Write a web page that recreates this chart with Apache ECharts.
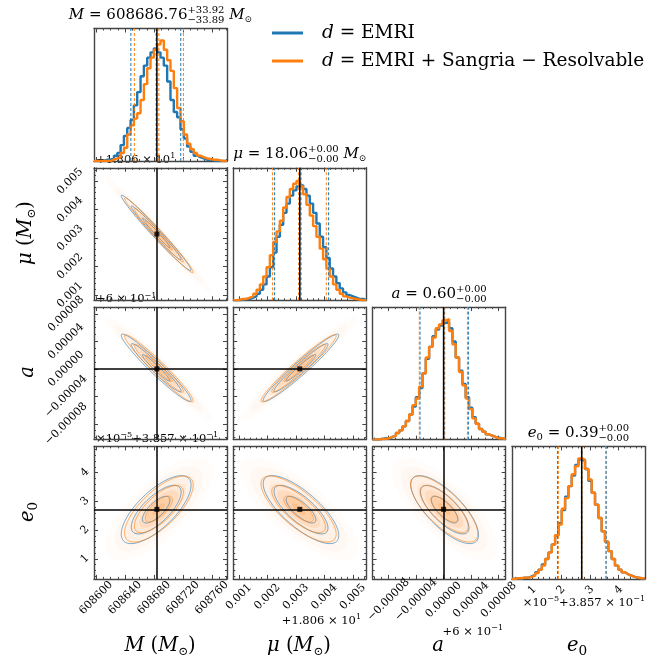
<!DOCTYPE html>
<html>
<head>
<meta charset="utf-8">
<script src="https://cdn.jsdelivr.net/npm/echarts@6/dist/echarts.min.js"></script>
<style>
  html, body { margin: 0; padding: 0; background: #fff; }
  #chart { width: 658px; height: 660px; }
</style>
</head>
<body>
<div id="chart"></div>
<script>
const FONT = 'DejaVu Serif'
const BLUE = '#1f77b4'
const ORANGE = '#ff7f0e'

// axis ranges: mu is relative to 18.06, a to 0.6, e0 in units of 1e-5 relative to 0.3857
const rangeM = [608597, 608781]
const rangeMu = [0.000807, 0.005473]
const rangeA = [-0.000103, 0.000090]
const rangeE0 = [0.30, 4.91]

const ticksM = [608600, 608640, 608680, 608720, 608760]
const ticksMu = [0.001, 0.002, 0.003, 0.004, 0.005]
const ticksA = [-0.00008, -0.00004, 0, 0.00004, 0.00008]
const ticksE0 = [1, 2, 3, 4]
const labelsM = ['608600', '608640', '608680', '608720', '608760']
const labelsMu = ['0.001', '0.002', '0.003', '0.004', '0.005']
const labelsA = ['\u22120.00008', '\u22120.00004', '0.00000', '0.00004', '0.00008']
const labelsE0 = ['1', '2', '3', '4']
const minorSteps = [10, 0.0002, 0.00001, 0.2]

const truths = [608684, 0.00314, 0, 2.72]

// normalised step histograms, 40 bins over each axis range
const histM_emri = [0, 0, 0, 0.01, 0.01, 0.02, 0.04, 0.06, 0.12, 0.19, 0.25, 0.31, 0.42, 0.52, 0.64, 0.72, 0.78, 0.82, 0.85, 0.82,
  0.78, 0.72, 0.60, 0.46, 0.37, 0.33, 0.24, 0.17, 0.11, 0.07, 0.04, 0.03, 0.02, 0.01, 0.01, 0.005, 0, 0, 0, 0]
const histM_sangria = [0, 0, 0, 0, 0, 0.01, 0.02, 0.03, 0.06, 0.10, 0.20, 0.27, 0.32, 0.36, 0.46, 0.58, 0.70, 0.78, 0.84, 0.88,
  0.91, 0.84, 0.76, 0.68, 0.55, 0.40, 0.30, 0.20, 0.13, 0.09, 0.06, 0.04, 0.03, 0.02, 0.015, 0.01, 0.01, 0.005, 0, 0]
const histMu_emri = [0, 0, 0.005, 0.01, 0.01, 0.02, 0.03, 0.05, 0.08, 0.12, 0.18, 0.25, 0.36, 0.48, 0.57, 0.66, 0.73, 0.79, 0.83, 0.86,
  0.87, 0.84, 0.79, 0.73, 0.66, 0.58, 0.48, 0.40, 0.32, 0.24, 0.18, 0.13, 0.09, 0.06, 0.04, 0.03, 0.02, 0.01, 0.01, 0.005]
const histMu_sangria = [0, 0.005, 0.01, 0.01, 0.02, 0.03, 0.05, 0.08, 0.12, 0.18, 0.25, 0.34, 0.44, 0.52, 0.60, 0.70, 0.78, 0.84, 0.88, 0.90,
  0.86, 0.80, 0.72, 0.64, 0.56, 0.48, 0.39, 0.31, 0.24, 0.18, 0.12, 0.08, 0.05, 0.03, 0.02, 0.015, 0.01, 0.005, 0, 0]
const histA_emri = [0, 0, 0.005, 0.01, 0.01, 0.02, 0.03, 0.05, 0.07, 0.10, 0.14, 0.19, 0.25, 0.32, 0.39, 0.50, 0.61, 0.70, 0.78, 0.83,
  0.86, 0.88, 0.89, 0.84, 0.74, 0.62, 0.52, 0.42, 0.32, 0.24, 0.17, 0.12, 0.08, 0.06, 0.04, 0.03, 0.02, 0.015, 0.01, 0.005]
const histA_sangria = [0, 0, 0.005, 0.005, 0.01, 0.02, 0.03, 0.05, 0.07, 0.10, 0.14, 0.19, 0.26, 0.31, 0.40, 0.50, 0.62, 0.70, 0.77, 0.84,
  0.87, 0.90, 0.91, 0.82, 0.72, 0.62, 0.51, 0.41, 0.31, 0.23, 0.16, 0.12, 0.08, 0.06, 0.04, 0.03, 0.02, 0.01, 0.01, 0.005]
const histE0_emri = [0, 0.005, 0.005, 0.01, 0.01, 0.02, 0.03, 0.05, 0.07, 0.11, 0.15, 0.20, 0.26, 0.33, 0.42, 0.52, 0.62, 0.70, 0.78, 0.86,
  0.90, 0.89, 0.83, 0.74, 0.65, 0.56, 0.46, 0.36, 0.28, 0.21, 0.15, 0.10, 0.07, 0.05, 0.035, 0.025, 0.015, 0.01, 0.005, 0.005]
const histE0_sangria = [0, 0.005, 0.005, 0.01, 0.01, 0.015, 0.025, 0.045, 0.07, 0.10, 0.15, 0.20, 0.26, 0.33, 0.41, 0.53, 0.61, 0.70, 0.79, 0.85,
  0.91, 0.90, 0.83, 0.75, 0.65, 0.56, 0.46, 0.36, 0.28, 0.21, 0.15, 0.10, 0.07, 0.05, 0.035, 0.025, 0.015, 0.01, 0.005, 0.005]

// 16 / 50 / 84 % quantiles
const quantEmri = [[608648, 608683, 608717], [0.002256, 0.003182, 0.004151], [-0.0000342, 0.0000016, 0.0000360], [1.88, 2.71, 3.57]]
const quantSangria = [[608652.87, 608686.76, 608720.68], [0.002186, 0.003098, 0.004070], [-0.0000352, 0.0000008, 0.0000346], [1.91, 2.73, 3.55]]

// correlation of each 2d panel, key = row-col
const rhoEmri = { '1-0': -0.985, '2-0': -0.965, '3-0': 0.72, '2-1': 0.965, '3-1': -0.76, '3-2': -0.74 }
const rhoSangria = { '1-0': -0.985, '2-0': -0.965, '3-0': 0.72, '2-1': 0.965, '3-1': -0.76, '3-2': -0.75 }

// contour radii (in sigma) and density shading layers [radius, opacity]
const contourLevels = [0.55, 1.0, 1.4]
const densityLayers = [[2.2, 0.02], [1.8, 0.03], [1.45, 0.05], [1.1, 0.08], [0.8, 0.11], [0.5, 0.14], [0.25, 0.14]]

const ranges = [rangeM, rangeMu, rangeA, rangeE0]
const majors = [ticksM, ticksMu, ticksA, ticksE0]
const tickLabels = [labelsM, labelsMu, labelsA, labelsE0]
const histEmri = [histM_emri, histMu_emri, histA_emri, histE0_emri]
const histSangria = [histM_sangria, histMu_sangria, histA_sangria, histE0_sangria]
const xLabelMargin = [19, 18, 21, 11]
const yLabelMargin = [0, 24, 28, 9]
const SPINE = '#444'

function minorTicks (p) {
  const s = minorSteps[p]
  const out = []
  for (let k = Math.ceil(ranges[p][0] / s); k * s <= ranges[p][1]; k++) out.push(k * s)
  return out
}

function labelFor (p, v) {
  const t = majors[p]
  let best = 0
  t.forEach((tv, k) => { if (Math.abs(tv - v) < Math.abs(t[best] - v)) best = k })
  return tickLabels[p][best]
}

function axis (gi, pos, p, opt) {
  const isY = pos === 'left' || pos === 'right'
  return {
    type: 'value',
    gridIndex: gi,
    position: pos,
    min: ranges[p][0],
    max: ranges[p][1],
    axisLine: { show: opt.line, onZero: false, lineStyle: { color: SPINE, width: 1.4 } },
    axisTick: { show: true, inside: true, length: opt.len, customValues: opt.ticks, lineStyle: { color: SPINE, width: 1 } },
    axisLabel: opt.labels ? {
      show: true,
      customValues: majors[p],
      rotate: 45,
      align: 'center',
      verticalAlign: 'middle',
      margin: isY ? yLabelMargin[p] : xLabelMargin[p],
      fontFamily: FONT,
      fontSize: 11,
      color: '#000',
      formatter: v => labelFor(p, v)
    } : { show: false },
    splitLine: { show: false },
    axisPointer: { show: false }
  }
}

function histData (p, counts) {
  const r = ranges[p]
  const n = counts.length
  const w = (r[1] - r[0]) / n
  const d = counts.map((c, k) => [r[0] + (k + 0.5) * w, c])
  return [[r[0], counts[0]]].concat(d, [[r[1], counts[n - 1]]])
}

function vline (xi, yi, v, color, width, type) {
  return {
    type: 'line', xAxisIndex: xi, yAxisIndex: yi, symbol: 'none', silent: true,
    data: [[v, 0], [v, 1]], lineStyle: { color: color, width: width, type: type }
  }
}

function ellipseSeries (xi, yi, c, s, rho, data, fill, color) {
  return {
    type: 'custom',
    xAxisIndex: xi,
    yAxisIndex: yi,
    clip: true,
    silent: true,
    data: data,
    renderItem: (params, api) => {
      const r = api.value(0)
      const op = api.value(1)
      const q = Math.sqrt(1 - rho * rho)
      const pts = []
      for (let k = 0; k <= 90; k++) {
        const t = k / 90 * 2 * Math.PI
        const u = Math.cos(t)
        const v = Math.sin(t)
        pts.push(api.coord([c[0] + r * s[0] * u, c[1] + r * s[1] * (rho * u + q * v)]))
      }
      return fill
        ? { type: 'polygon', shape: { points: pts }, style: { fill: color, opacity: op } }
        : { type: 'polyline', shape: { points: pts }, style: { stroke: color, lineWidth: 0.7, fill: null, opacity: 0.85 } }
    }
  }
}

const grids = []
const xAxes = []
const yAxes = []
const series = []

for (let i = 0; i < 4; i++) {
  for (let j = 0; j <= i; j++) {
    const gi = grids.length
    grids.push({ left: 94 + 139.3 * j, top: 28.5 + 139.3 * i, width: 133, height: 132.5 })
    const xi = xAxes.length
    xAxes.push(axis(gi, 'bottom', j, { line: true, ticks: majors[j], len: 4, labels: i === 3 }))
    xAxes.push(axis(gi, 'bottom', j, { line: false, ticks: minorTicks(j), len: 2 }))
    xAxes.push(axis(gi, 'top', j, { line: true, ticks: majors[j], len: 4 }))
    xAxes.push(axis(gi, 'top', j, { line: false, ticks: minorTicks(j), len: 2 }))
    const yi = yAxes.length
    if (i === j) {
      ['left', 'right'].forEach(pos => yAxes.push({
        type: 'value', gridIndex: gi, position: pos, min: 0, max: 1,
        axisLine: { show: true, onZero: false, lineStyle: { color: SPINE, width: 1.4 } },
        axisTick: { show: false }, axisLabel: { show: false }, splitLine: { show: false }
      }))
      series.push({
        type: 'line', xAxisIndex: xi, yAxisIndex: yi, step: 'middle', symbol: 'none', silent: true,
        data: histData(i, histEmri[i]), lineStyle: { color: BLUE, width: 2.4 }
      })
      series.push({
        type: 'line', xAxisIndex: xi, yAxisIndex: yi, step: 'middle', symbol: 'none', silent: true,
        data: histData(i, histSangria[i]), lineStyle: { color: ORANGE, width: 2.4 }
      })
      quantEmri[i].forEach(v => series.push(vline(xi, yi, v, BLUE, 1, [3, 2])))
      quantSangria[i].forEach(v => series.push(vline(xi, yi, v, ORANGE, 1, [3, 2])))
      series.push(vline(xi, yi, truths[i], '#000', 1.5, 'solid'))
    } else {
      yAxes.push(axis(gi, 'left', i, { line: true, ticks: majors[i], len: 4, labels: j === 0 }))
      yAxes.push(axis(gi, 'left', i, { line: false, ticks: minorTicks(i), len: 2 }))
      yAxes.push(axis(gi, 'right', i, { line: true, ticks: majors[i], len: 4 }))
      yAxes.push(axis(gi, 'right', i, { line: false, ticks: minorTicks(i), len: 2 }))
      const key = i + '-' + j
      const sig = q => [(q[j][2] - q[j][0]) / 2, (q[i][2] - q[i][0]) / 2]
      const cen = q => [q[j][1], q[i][1]]
      series.push(ellipseSeries(xi, yi, cen(quantSangria), sig(quantSangria), rhoSangria[key], densityLayers, true, ORANGE))
      series.push(ellipseSeries(xi, yi, cen(quantEmri), sig(quantEmri), rhoEmri[key], contourLevels.map(l => [l, 1]), false, BLUE))
      series.push(ellipseSeries(xi, yi, cen(quantSangria), sig(quantSangria), rhoSangria[key], contourLevels.map(l => [l, 1]), false, ORANGE))
      series.push({
        type: 'scatter', xAxisIndex: xi, yAxisIndex: yi, symbol: 'rect', symbolSize: 5, silent: true,
        itemStyle: { color: '#000' },
        data: [[truths[j], truths[i]]],
        markLine: {
          symbol: ['none', 'none'], silent: true, label: { show: false },
          lineStyle: { color: '#000', width: 1.5, type: 'solid' },
          data: [{ xAxis: truths[j] }, { yAxis: truths[i] }]
        }
      })
    }
  }
}

// --- text with sub / superscripts as graphic elements ---
const measureCtx = document.createElement('canvas').getContext('2d')
function textW (t, size, italic) {
  measureCtx.font = (italic ? 'italic ' : '') + size + 'px "' + FONT + '"'
  return measureCtx.measureText(t).width
}
function txt (x, y, t, size, italic, bg) {
  const style = { text: t, fontSize: size, fontFamily: FONT, fontStyle: italic ? 'italic' : 'normal', fill: '#000', align: 'left', verticalAlign: 'middle' }
  if (bg) style.backgroundColor = bg
  return { type: 'text', x: x, y: y, silent: true, style: style }
}
function mathGroup (parts, x, y, anchor, rotation, bg) {
  let cx = 0
  const els = []
  parts.forEach(p => {
    if (p.sup !== undefined) {
      els.push(txt(cx, -p.s * 0.5, p.sup, p.s, false))
      els.push(txt(cx, p.s * 0.55, p.sub, p.s, false))
      cx += Math.max(textW(p.sup, p.s), textW(p.sub, p.s))
    } else {
      els.push(txt(cx, p.dy || 0, p.t, p.s, p.it, bg))
      cx += textW(p.t, p.s, p.it)
    }
  })
  const off = anchor === 'center' ? -cx / 2 : anchor === 'right' ? -cx : 0
  els.forEach(e => { e.x += off })
  return { type: 'group', x: x, y: y, rotation: rotation || 0, silent: true, children: els }
}

const T = 15
const S = 10
const L = 19.5
const O = 11.5
const BG = 'rgba(255,255,255,0.75)'
const sunM = s => [{ t: 'M', it: true, s: s }, { t: '\u2299', s: s * 0.6, dy: s * 0.3 }]
const graphics = [
  // titles
  mathGroup([{ t: 'M', it: true, s: T }, { t: ' = 608686.76', s: T }, { sup: '+33.92', sub: '\u221233.89', s: S }, { t: ' ', s: T }].concat(sunM(T)), 160.5, 15, 'center'),
  mathGroup([{ t: '\u03bc', it: true, s: T }, { t: ' = 18.06', s: T }, { sup: '+0.00', sub: '\u22120.00', s: S }, { t: ' ', s: T }].concat(sunM(T)), 299.8, 154, 'center'),
  mathGroup([{ t: 'a', it: true, s: T }, { t: ' = 0.60', s: T }, { sup: '+0.00', sub: '\u22120.00', s: S }], 439.1, 294, 'center'),
  mathGroup([{ t: 'e', it: true, s: T }, { t: '0', s: S, dy: 4 }, { t: ' = 0.39', s: T }, { sup: '+0.00', sub: '\u22120.00', s: S }], 578.4, 433, 'center'),
  // bottom axis labels
  mathGroup([{ t: 'M', it: true, s: L }, { t: ' (', s: L }].concat(sunM(L), [{ t: ')', s: L }]), 160, 646, 'center'),
  mathGroup([{ t: '\u03bc', it: true, s: L }, { t: ' (', s: L }].concat(sunM(L), [{ t: ')', s: L }]), 299, 646, 'center'),
  mathGroup([{ t: 'a', it: true, s: L }], 438, 646, 'center'),
  mathGroup([{ t: 'e', it: true, s: L }, { t: '0', s: L * 0.7, dy: 5 }], 577, 646, 'center'),
  // left axis labels
  mathGroup([{ t: '\u03bc', it: true, s: L }, { t: ' (', s: L }].concat(sunM(L), [{ t: ')', s: L }]), 26, 233, 'center', Math.PI / 2),
  mathGroup([{ t: 'a', it: true, s: L }], 28, 372, 'center', Math.PI / 2),
  mathGroup([{ t: 'e', it: true, s: L }, { t: '0', s: L * 0.7, dy: 5 }], 28, 512, 'center', Math.PI / 2),
  // offset texts
  mathGroup([{ t: '+1.806 \u00d7 10', s: O }, { t: '1', s: O * 0.7, dy: -4 }], 96, 160, 'left', 0, BG),
  mathGroup([{ t: '+6 \u00d7 10', s: O }, { t: '\u22121', s: O * 0.7, dy: -4 }], 96, 299.5, 'left', 0, BG),
  mathGroup([{ t: '\u00d710', s: O }, { t: '\u22125', s: O * 0.7, dy: -4 }, { t: '+3.857 \u00d7 10', s: O }, { t: '\u22121', s: O * 0.7, dy: -4 }], 96, 439, 'left', 0, BG),
  mathGroup([{ t: '+1.806 \u00d7 10', s: O }, { t: '1', s: O * 0.7, dy: -4 }], 361, 621, 'right'),
  mathGroup([{ t: '+6 \u00d7 10', s: O }, { t: '\u22121', s: O * 0.7, dy: -4 }], 503, 632, 'right'),
  mathGroup([{ t: '\u00d710', s: O }, { t: '\u22125', s: O * 0.7, dy: -4 }, { t: '+3.857 \u00d7 10', s: O }, { t: '\u22121', s: O * 0.7, dy: -4 }], 645, 603, 'right'),
  // legend
  { type: 'line', silent: true, shape: { x1: 272, y1: 33, x2: 303, y2: 33 }, style: { stroke: BLUE, lineWidth: 3 } },
  { type: 'line', silent: true, shape: { x1: 272, y1: 61, x2: 303, y2: 61 }, style: { stroke: ORANGE, lineWidth: 3 } },
  mathGroup([{ t: 'd', it: true, s: 18.5 }, { t: ' = EMRI', s: 18.5 }], 322, 33, 'left'),
  mathGroup([{ t: 'd', it: true, s: 18.5 }, { t: ' = EMRI + Sangria \u2212 Resolvable', s: 18.5 }], 322, 61, 'left')
]

const chart = echarts.init(document.getElementById('chart'), null, { renderer: 'canvas' })
chart.setOption({
  animation: false,
  backgroundColor: '#fff',
  grid: grids,
  xAxis: xAxes,
  yAxis: yAxes,
  series: series,
  graphic: graphics
})
</script>
</body>
</html>
